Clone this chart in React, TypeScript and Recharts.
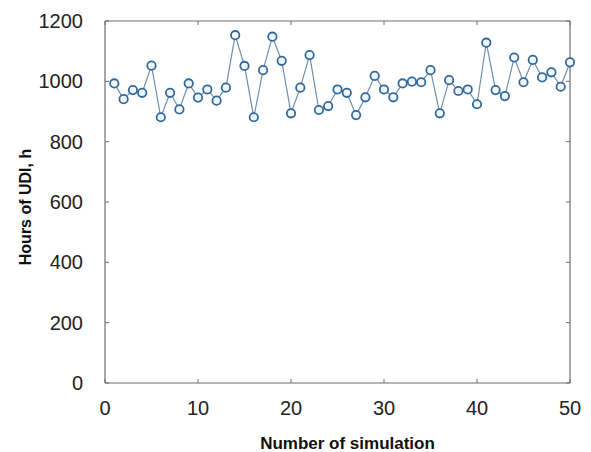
import React from 'react';
import { LineChart, Line, XAxis, YAxis } from 'recharts';

const simulations: number[] = Array.from({ length: 50 }, (_, i) => i + 1);
const udiHours: number[] = [
  993, 941, 971, 962, 1052, 881, 962, 907, 993, 946,
  973, 936, 979, 1153, 1051, 881, 1037, 1148, 1068, 894,
  979, 1087, 905, 918, 973, 962, 888, 947, 1018, 973,
  947, 993, 999, 997, 1037, 894, 1004, 968, 973, 924,
  1128, 971, 951, 1079, 997, 1071, 1013, 1030, 982, 1063,
];
const xTicks: number[] = [0, 10, 20, 30, 40, 50];
const yTicks: number[] = [0, 200, 400, 600, 800, 1000, 1200];

const data = simulations.map((s, i) => ({ sim: s, udi: udiHours[i] }));

const AXIS = '#6e6e6e';
const TEXT = '#222222';
const FONT = '"Liberation Sans", Arial, sans-serif';
const TL = 4;

const BottomTick = (props: any) => {
  const { x, y, payload } = props;
  const ay = y - 18;
  return (
    <g>
      <line x1={x} x2={x} y1={ay} y2={ay - TL} stroke={AXIS} strokeWidth={1} />
      <text x={x} y={y} dy="0.71em" textAnchor="middle" fontSize={20} fill={TEXT} fontFamily={FONT}>
        {payload.value}
      </text>
    </g>
  );
};

const LeftTick = (props: any) => {
  const { x, y, payload } = props;
  const ax = x + 22;
  return (
    <g>
      <line x1={ax} x2={ax + TL} y1={y} y2={y} stroke={AXIS} strokeWidth={1} />
      <text x={x} y={y} dy="0.355em" textAnchor="end" fontSize={20} fill={TEXT} fontFamily={FONT}>
        {payload.value}
      </text>
    </g>
  );
};

const TopTick = (props: any) => {
  const { x, y } = props;
  return <line x1={x} x2={x} y1={y} y2={y + TL} stroke={AXIS} strokeWidth={1} />;
};

const RightTick = (props: any) => {
  const { x, y } = props;
  return <line x1={x} x2={x - TL} y1={y} y2={y} stroke={AXIS} strokeWidth={1} />;
};

const XLabel = (props: any) => {
  const { viewBox } = props;
  const cx = viewBox.x + viewBox.width / 2 + 10;
  return (
    <text x={cx} y={viewBox.y + 66} textAnchor="middle" fontSize={17} fontWeight="bold" fill="#111" fontFamily={FONT}>
      Number of simulation
    </text>
  );
};

const YLabel = (props: any) => {
  const { viewBox } = props;
  const cy = viewBox.y + viewBox.height / 2 + 5;
  const cx = 25;
  return (
    <text
      x={cx}
      y={cy}
      textAnchor="middle"
      dominantBaseline="central"
      transform={`rotate(-90, ${cx}, ${cy})`}
      fontSize={16}
      fontWeight="bold"
      fill="#111"
      fontFamily={FONT}
    >
      Hours of UDI, h
    </text>
  );
};

export default function App() {
  return (
    <div style={{ position: 'absolute', left: 0, top: 0, width: 591, height: 452, background: '#fff' }}>
      <LineChart width={591} height={452} data={data} margin={{ top: 20, right: 20, bottom: 0, left: 0 }}>
        <XAxis
          dataKey="sim"
          type="number"
          domain={[0, 50]}
          ticks={xTicks}
          interval={0}
          height={69}
          tickSize={0}
          tickMargin={18}
          tickLine={false}
          axisLine={{ stroke: AXIS, strokeWidth: 1.2 }}
          tick={<BottomTick />}
          label={<XLabel />}
        />
        <XAxis
          xAxisId="top"
          orientation="top"
          dataKey="sim"
          type="number"
          domain={[0, 50]}
          ticks={xTicks}
          interval={0}
          height={1}
          tickSize={0}
          tickMargin={0}
          tickLine={false}
          axisLine={{ stroke: AXIS, strokeWidth: 1.2 }}
          tick={<TopTick />}
        />
        <YAxis
          type="number"
          domain={[0, 1200]}
          ticks={yTicks}
          interval={0}
          width={105}
          tickSize={0}
          tickMargin={22}
          tickLine={false}
          axisLine={{ stroke: AXIS, strokeWidth: 1.2 }}
          tick={<LeftTick />}
          label={<YLabel />}
        />
        <YAxis
          yAxisId="right"
          orientation="right"
          type="number"
          domain={[0, 1200]}
          ticks={yTicks}
          interval={0}
          width={1}
          tickSize={0}
          tickMargin={0}
          tickLine={false}
          axisLine={{ stroke: AXIS, strokeWidth: 1.2 }}
          tick={<RightTick />}
        />
        <Line
          xAxisId="top"
          yAxisId="right"
          dataKey="udi"
          type="linear"
          stroke="none"
          strokeWidth={0}
          isAnimationActive={false}
          dot={false}
          activeDot={false}
        />
        <Line
          dataKey="udi"
          type="linear"
          stroke="#6f8fae"
          strokeWidth={1.2}
          isAnimationActive={false}
          dot={{ r: 4.2, stroke: '#2f6a9d', strokeWidth: 1.8, fill: '#f4f8fc' }}
          activeDot={false}
        />
      </LineChart>
    </div>
  );
}
